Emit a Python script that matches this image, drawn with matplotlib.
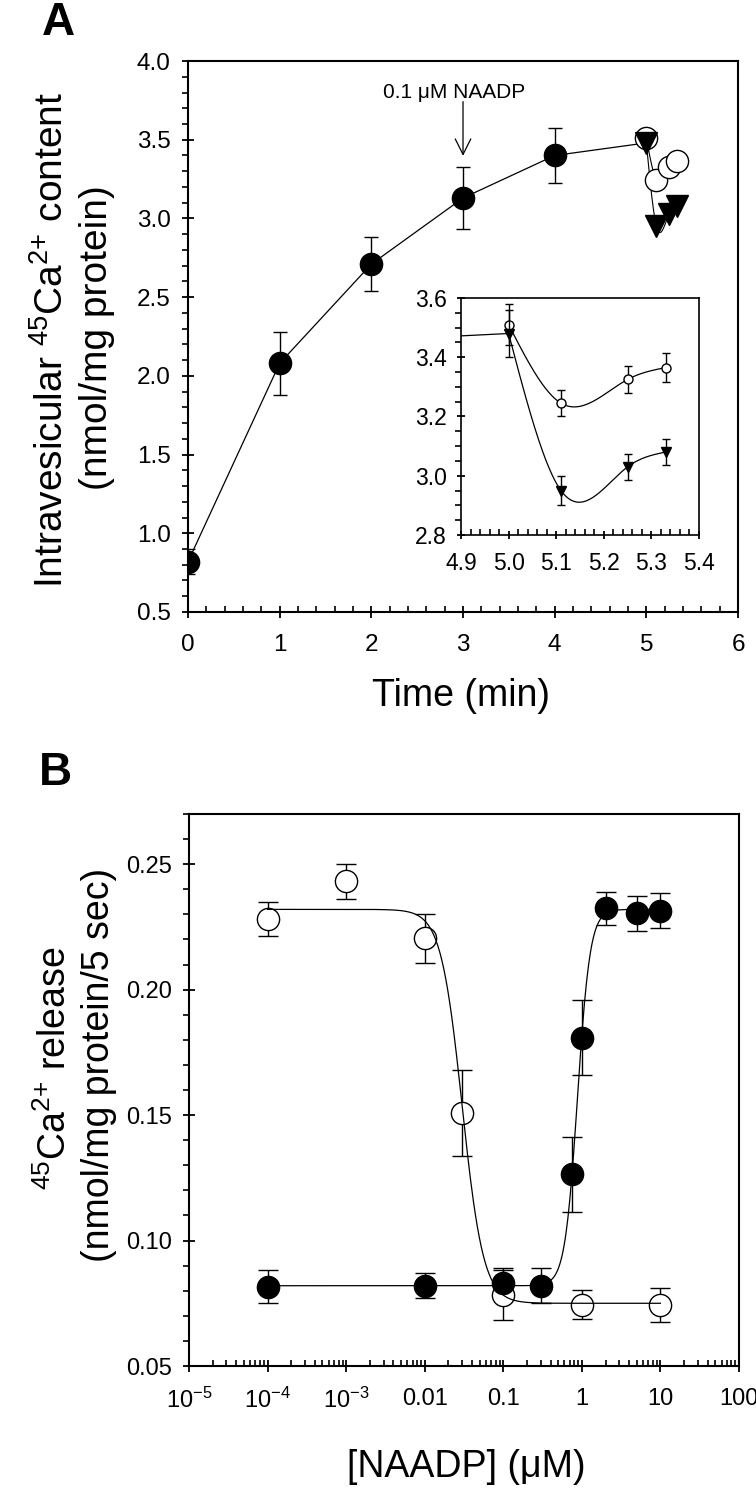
import numpy as np
import matplotlib
matplotlib.use("Agg")
import matplotlib.pyplot as plt
from matplotlib.ticker import MultipleLocator, LogLocator, FixedLocator, FixedFormatter, NullFormatter

plt.rcParams['font.family'] = ['Liberation Sans', 'DejaVu Sans']
plt.rcParams['mathtext.default'] = 'regular'

# ---- panel A data (time course) ----
time_main = [0, 1, 2, 3, 4, 5]
content_main = [0.82, 2.08, 2.71, 3.13, 3.40, 3.48]
content_main_err = [0.08, 0.20, 0.17, 0.195, 0.175]

time_post = [5.0, 5.11, 5.25, 5.33]
content_ctrl = [3.51, 3.245, 3.325, 3.365]
content_ctrl_err = [0.07, 0.045, 0.045, 0.05]
content_naadp = [3.48, 2.95, 3.03, 3.08]
content_naadp_err = [0.08, 0.05, 0.045, 0.045]

# ---- panel B data (dose response) ----
conc_open = [1e-4, 1e-3, 0.01, 0.03, 0.1, 1, 10]
release_open = [0.228, 0.2432, 0.2204, 0.1508, 0.0784, 0.0744, 0.0744]
release_open_err = [0.0068, 0.007, 0.0096, 0.017, 0.010, 0.0058, 0.0068]

conc_fill = [1e-4, 0.01, 0.1, 0.3, 0.75, 1, 2, 5, 10]
release_fill = [0.0816, 0.082, 0.0829, 0.082, 0.1264, 0.1808, 0.2324, 0.2304, 0.2315]
release_fill_err = [0.0066, 0.005, 0.006, 0.007, 0.015, 0.015, 0.0065, 0.007, 0.007]

# fitted Hill curves (bottom, top, ec50, slope)
fit_open = (0.075, 0.232, 0.030, 3.2)
fit_fill = (0.082, 0.232, 0.88, 5.4)

xtick_vals_B = [1e-5, 1e-4, 1e-3, 0.01, 0.1, 1, 10, 100]
xtick_labels_B = [r'$10^{-5}$', r'$10^{-4}$', r'$10^{-3}$', '0.01', '0.1', '1', '10', '100']


def spline(x, y, n=200):
    # natural cubic spline, for the smooth connecting lines
    x = np.asarray(x, float)
    y = np.asarray(y, float)
    h = np.diff(x)
    m = len(x)
    A = np.zeros((m, m))
    r = np.zeros(m)
    A[0, 0] = A[-1, -1] = 1
    for i in range(1, m - 1):
        A[i, i - 1] = h[i - 1]
        A[i, i] = 2 * (h[i - 1] + h[i])
        A[i, i + 1] = h[i]
        r[i] = 6 * ((y[i + 1] - y[i]) / h[i] - (y[i] - y[i - 1]) / h[i - 1])
    M = np.linalg.solve(A, r)
    xs = np.linspace(x[0], x[-1], n)
    k = np.clip(np.searchsorted(x, xs) - 1, 0, m - 2)
    t1 = x[k + 1] - xs
    t0 = xs - x[k]
    ys = (M[k] * t1**3 + M[k + 1] * t0**3) / (6 * h[k]) \
        + (y[k] / h[k] - M[k] * h[k] / 6) * t1 + (y[k + 1] / h[k] - M[k + 1] * h[k] / 6) * t0
    return xs, ys


def hill(x, p, rising):
    b, t, ec, n = p
    if rising:
        return b + (t - b) / (1 + (ec / x) ** n)
    return b + (t - b) / (1 + (x / ec) ** n)


def style_axis(ax, lw=1.5):
    for s in ax.spines.values():
        s.set_linewidth(lw)
    ax.tick_params(axis='y', which='major', direction='inout', length=9, width=1.3, pad=8)
    ax.tick_params(axis='y', which='minor', direction='out', length=4, width=1.2)
    ax.tick_params(axis='x', which='major', direction='inout', length=9, width=1.3, pad=11)
    ax.tick_params(axis='x', which='minor', direction='in', length=4, width=1.2)
    ax.tick_params(top=False, right=False, which='both')


fig = plt.figure(figsize=(7.56, 14.89), dpi=100)

# ================= Panel A =================
axA = fig.add_axes([0.2487, 0.5890, 0.7275, 0.3700])
axA.plot(time_main, content_main, color='black', lw=0.9, zorder=2)
axA.errorbar(time_main[:5], content_main[:5], yerr=content_main_err, fmt='o', color='black',
             ms=16, capsize=5, elinewidth=1, capthick=1, zorder=3)
xs, ys = spline(time_post, content_ctrl)
axA.plot(xs, ys, color='black', lw=0.8, zorder=2)
xs, ys = spline(time_post, content_naadp)
axA.plot(xs, ys, color='black', lw=0.8, zorder=2)
axA.plot(time_post, content_ctrl, 'o', ms=16, mfc='white', mec='black', mew=1, zorder=3)
axA.plot(time_post, content_naadp, 'v', ms=16, color='black', zorder=4)
axA.set_xlim(0, 6)
axA.set_ylim(0.5, 4.0)
axA.xaxis.set_major_locator(MultipleLocator(1))
axA.xaxis.set_minor_locator(MultipleLocator(0.2))
axA.yaxis.set_major_locator(MultipleLocator(0.5))
axA.yaxis.set_minor_locator(MultipleLocator(0.1))
axA.yaxis.set_major_formatter(plt.FormatStrFormatter('%.1f'))
style_axis(axA)
axA.tick_params(labelsize=17.5)
axA.annotate('', xy=(3, 3.38), xytext=(3, 3.76),
             arrowprops=dict(arrowstyle='->', lw=0.9, color='black', mutation_scale=28))
axA.text(2.9, 3.80, '0.1 μM NAADP', ha='center', va='center', fontsize=15)

# inset
ins = fig.add_axes([0.6098, 0.6407, 0.3148, 0.1592])
ins.plot(time_main, content_main, color='black', lw=0.9, zorder=2)
xs, ys = spline(time_post, content_ctrl)
ins.plot(xs, ys, color='black', lw=0.9, zorder=2)
xs, ys = spline(time_post, content_naadp)
ins.plot(xs, ys, color='black', lw=0.9, zorder=2)
ins.errorbar(time_post, content_ctrl, yerr=content_ctrl_err, fmt='o', ms=6.5, mfc='white',
             mec='black', ecolor='black', capsize=3, elinewidth=1, capthick=1, zorder=3)
ins.errorbar(time_post, content_naadp, yerr=content_naadp_err, fmt='v', ms=7.5, color='black',
             capsize=3, elinewidth=1, capthick=1, zorder=4)
ins.set_xlim(4.9, 5.4)
ins.set_ylim(2.8, 3.6)
ins.xaxis.set_major_locator(MultipleLocator(0.1))
ins.xaxis.set_minor_locator(MultipleLocator(0.02))
ins.yaxis.set_major_locator(MultipleLocator(0.2))
ins.yaxis.set_minor_locator(MultipleLocator(0.05))
ins.xaxis.set_major_formatter(plt.FormatStrFormatter('%.1f'))
ins.yaxis.set_major_formatter(plt.FormatStrFormatter('%.1f'))
style_axis(ins, lw=1.2)
ins.tick_params(labelsize=16.5)
ins.tick_params(axis='y', which='major', pad=7, length=6)
ins.tick_params(axis='x', which='major', pad=9, length=6)

fig.text(58 / 756, 1 - 23 / 1489, 'A', fontsize=33, fontweight='bold', ha='center', va='center')
fig.text(52 / 756, 1 - 340 / 1489, r'Intravesicular $^{45}$Ca$^{2{+}}$ content', rotation=90,
         fontsize=28, ha='center', va='center')
fig.text(97 / 756, 1 - 338 / 1489, '(nmol/mg protein)', rotation=90,
         fontsize=28, ha='center', va='center')
fig.text(461 / 756, 1 - 696 / 1489, 'Time (min)', fontsize=27, ha='center', va='center')

# ================= Panel B =================
axB = fig.add_axes([0.25, 0.0826, 0.7275, 0.3707])
axB.set_xscale('log')
xc = np.logspace(-4, 1, 400)
axB.plot(xc, hill(xc, fit_open, False), color='black', lw=0.9, zorder=4)
axB.plot(xc, hill(xc, fit_fill, True), color='black', lw=0.9, zorder=4)
axB.errorbar(conc_open, release_open, yerr=release_open_err, fmt='o', ms=16, mfc='white',
             mec='black', mew=1, ecolor='black', capsize=7, elinewidth=1, capthick=1, zorder=3)
axB.errorbar(conc_fill, release_fill, yerr=release_fill_err, fmt='o', ms=16, color='black',
             capsize=7, elinewidth=1, capthick=1, zorder=3)
axB.set_xlim(1e-5, 100)
axB.set_ylim(0.05, 0.27)
axB.yaxis.set_major_locator(FixedLocator([0.05, 0.10, 0.15, 0.20, 0.25]))
axB.yaxis.set_minor_locator(MultipleLocator(0.01))
axB.yaxis.set_major_formatter(plt.FormatStrFormatter('%.2f'))
axB.xaxis.set_major_locator(FixedLocator(xtick_vals_B))
axB.xaxis.set_major_formatter(FixedFormatter(xtick_labels_B))
axB.xaxis.set_minor_locator(LogLocator(base=10, subs=np.arange(2, 10), numticks=20))
axB.xaxis.set_minor_formatter(NullFormatter())
style_axis(axB)
axB.tick_params(labelsize=17)

fig.text(55 / 756, 1 - 773 / 1489, 'B', fontsize=33, fontweight='bold', ha='center', va='center')
fig.text(55 / 756, 1 - 1068 / 1489, r'$^{45}$Ca$^{2{+}}$ release', rotation=90,
         fontsize=27, ha='center', va='center')
fig.text(99 / 756, 1 - 1065 / 1489, '(nmol/mg protein/5 sec)', rotation=90,
         fontsize=27, ha='center', va='center')
fig.text(466 / 756, 1 - 1467 / 1489, '[NAADP] (μM)', fontsize=27, ha='center', va='center')

fig.savefig('out.png', dpi=100)
